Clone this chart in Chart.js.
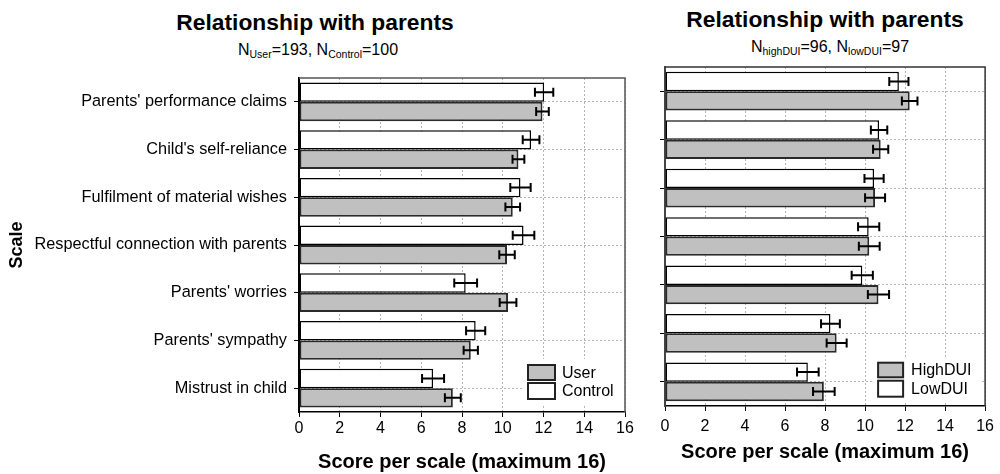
<!DOCTYPE html>
<html>
<head>
<meta charset="utf-8">
<script src="https://cdn.jsdelivr.net/npm/chart.js@4.4.1/dist/chart.umd.min.js"></script>
<style>
  html, body { margin: 0; padding: 0; background: #fff; }
  body { width: 1000px; height: 474px; position: relative; overflow: hidden; font-family: "Liberation Sans", Arial, sans-serif; color: #000; }
  .wrap { position: absolute; top: 0; }
  .ttl { position: absolute; font-weight: bold; font-size: 22.8px; line-height: 23px; white-space: nowrap; transform: translateX(-50%); }
  .sub { position: absolute; font-size: 16px; line-height: 16px; white-space: nowrap; transform: translateX(-50%); }
  .sub sub { font-size: 10.5px; vertical-align: -3px; line-height: 0; }
</style>
</head>
<body>
<div class="ttl" style="left:315px; top:11px;">Relationship with parents</div>
<div class="sub" style="left:318px; top:42px;">N<sub>User</sub>=193, N<sub>Control</sub>=100</div>
<div class="ttl" style="left:825px; top:8px;">Relationship with parents</div>
<div class="sub" style="left:830px; top:39px;">N<sub>highDUI</sub>=96, N<sub>lowDUI</sub>=97</div>
<div class="wrap" style="left:0; width:640px; height:474px;"><canvas id="c1" width="640" height="474"></canvas></div>
<div class="wrap" style="left:640px; width:360px; height:474px;"><canvas id="c2" width="360" height="474"></canvas></div>
<script>
// ---- data ----
const categories = ["Parents' performance claims", "Child's self-reliance", "Fulfilment of material wishes", "Respectful connection with parents", "Parents' worries", "Parents' sympathy", "Mistrust in child"];
const userMeans    = [11.95, 10.77, 10.49, 10.21, 10.26, 8.43, 7.55];
const userErr      = [0.31, 0.29, 0.36, 0.38, 0.41, 0.35, 0.39];
const controlMeans = [12.03, 11.39, 10.87, 11.02, 8.18, 8.67, 6.58];
const controlErr   = [0.45, 0.41, 0.50, 0.53, 0.56, 0.47, 0.54];
const highMeans    = [12.23, 10.78, 10.50, 10.21, 10.67, 8.58, 7.94];
const highErr      = [0.39, 0.38, 0.50, 0.52, 0.53, 0.50, 0.54];
const lowMeans     = [11.69, 10.70, 10.45, 10.18, 9.86, 8.27, 7.14];
const lowErr       = [0.48, 0.41, 0.48, 0.53, 0.53, 0.47, 0.54];
const xTickStep = 2;
const xMin = 0, xMax = 16;
const xTitle = "Score per scale (maximum 16)";
const yTitle = "Scale";

const FONT = "'Liberation Sans', Arial, sans-serif";
const GRAY = '#c0c0c0';

const errorBars = {
  id: 'errorBars',
  afterDatasetsDraw(chart) {
    const ctx = chart.ctx, xs = chart.scales.x;
    chart.data.datasets.forEach((ds, i) => {
      const meta = chart.getDatasetMeta(i);
      meta.data.forEach((el, j) => {
        const v = ds.data[j], e = ds.errors[j];
        const x1 = xs.getPixelForValue(v - e), x2 = xs.getPixelForValue(v + e);
        const y = el.y, h = 4.5;
        ctx.save();
        ctx.strokeStyle = '#000'; ctx.lineWidth = 2;
        ctx.beginPath();
        ctx.moveTo(x1, y); ctx.lineTo(x2, y);
        ctx.moveTo(x1, y - h); ctx.lineTo(x1, y + h);
        ctx.moveTo(x2, y - h); ctx.lineTo(x2, y + h);
        ctx.stroke();
        ctx.restore();
      });
    });
  }
};

const frame = {
  id: 'frame',
  afterDraw(chart, args, o) {
    const {left, right, top, bottom} = chart.chartArea, ctx = chart.ctx;
    ctx.save();
    ctx.strokeStyle = (o && o.color) || '#555'; ctx.lineWidth = 1.5;
    ctx.beginPath();
    ctx.moveTo(left, top); ctx.lineTo(right, top); ctx.lineTo(right, bottom);
    ctx.stroke();
    ctx.restore();
  }
};

const boxLegend = {
  id: 'boxLegend',
  afterDraw(chart, args, o) {
    if (!o || !o.items) return;
    const {right, bottom} = chart.chartArea, ctx = chart.ctx;
    ctx.save();
    ctx.fillStyle = '#fff';
    ctx.fillRect(right - o.bg[0], bottom - o.bg[1], o.bg[2], o.bg[3]);
    const dsList = chart.data.datasets.slice().reverse();
    dsList.forEach((ds, k) => {
      const b = o.boxes[k];
      const x = right - o.boxX, y = bottom - b[0];
      ctx.fillStyle = ds.backgroundColor;
      ctx.fillRect(x, y, o.boxW, b[1]);
      ctx.strokeStyle = '#222'; ctx.lineWidth = 2;
      ctx.strokeRect(x, y, o.boxW, b[1]);
      ctx.fillStyle = '#000';
      ctx.font = '16px ' + FONT;
      ctx.textBaseline = 'middle';
      ctx.textAlign = 'left';
      ctx.fillText(ds.label, right - o.textX, y + b[1] / 2 + 1);
    });
    ctx.restore();
  }
};

function makeChart(id, dsTop, dsBottom, opt) {
  return new Chart(document.getElementById(id), {
    type: 'bar',
    data: {
      labels: categories,
      datasets: [
        { label: dsTop.label, data: dsTop.data, errors: dsTop.errors, backgroundColor: '#ffffff', borderColor: '#000', borderWidth: 1.5, borderSkipped: false,
          categoryPercentage: opt.catPct, barPercentage: 1 },
        { label: dsBottom.label, data: dsBottom.data, errors: dsBottom.errors, backgroundColor: GRAY, borderColor: '#2a2a2a', borderWidth: 2, borderSkipped: false,
          categoryPercentage: opt.catPct, barPercentage: 1 }
      ]
    },
    options: {
      indexAxis: 'y',
      responsive: false,
      animation: false,
      layout: { padding: { top: opt.top, right: opt.right, left: 0, bottom: 0 } },
      plugins: {
        legend: { display: false },
        tooltip: { enabled: false },
        title: { display: false },
        boxLegend: opt.legend,
        frame: { color: opt.frameColor }
      },
      scales: {
        x: {
          min: xMin, max: xMax,
          afterFit(s) { s.height = opt.xHeight; },
          ticks: { stepSize: xTickStep, color: '#000', font: { size: 16, family: FONT }, padding: opt.xTickPad, maxRotation: 0 },
          grid: { color: '#b4b4b4', lineWidth: 1, tickColor: '#000', tickLength: 5, tickBorderDash: [] },
          border: { display: true, color: '#000', width: 1.5, dash: [2, 2] },
          title: { display: true, text: xTitle, color: '#000', font: { size: 20, weight: 'bold', family: FONT }, padding: { top: 0, bottom: opt.xTitlePad } }
        },
        y: {
          afterFit(s) { s.width = opt.yWidth; },
          ticks: { display: opt.showLabels, color: '#000', font: { size: 16.3, family: FONT }, padding: 7, autoSkip: false },
          grid: { offset: false, color: '#b4b4b4', lineWidth: 1, tickColor: '#000', tickLength: 5, tickBorderDash: [] },
          border: { display: true, color: opt.yBorder, width: 2, dash: [2, 2] },
          title: { display: opt.showLabels, text: yTitle, color: '#000', font: { size: 18, weight: 'bold', family: FONT }, padding: { top: 6, bottom: 0 } }
        }
      }
    },
    plugins: [errorBars, frame, boxLegend]
  });
}

makeChart('c1',
  { label: 'Control', data: controlMeans, errors: controlErr },
  { label: 'User', data: userMeans, errors: userErr },
  { top: 78, right: 15, xHeight: 62, yWidth: 299, catPct: 0.813, showLabels: true, xTickPad: 2, xTitlePad: 0, yBorder: '#000', frameColor: '#555',
    legend: { items: true, bg: [101, 53, 98, 46], boxX: 97, boxW: 27, boxes: [[47, 15], [29, 16]], textX: 63 } });

makeChart('c2',
  { label: 'LowDUI', data: lowMeans, errors: lowErr },
  { label: 'HighDUI', data: highMeans, errors: highErr },
  { top: 67, right: 10, xHeight: 68, yWidth: 25, catPct: 0.80, showLabels: false, xTickPad: 6, xTitlePad: 10, yBorder: '#444', frameColor: '#333',
    legend: { items: true, bg: [111, 48, 108, 44], boxX: 107, boxW: 25, boxes: [[43.3, 14.6], [25.3, 16]], textX: 74 } });
</script>
</body>
</html>
